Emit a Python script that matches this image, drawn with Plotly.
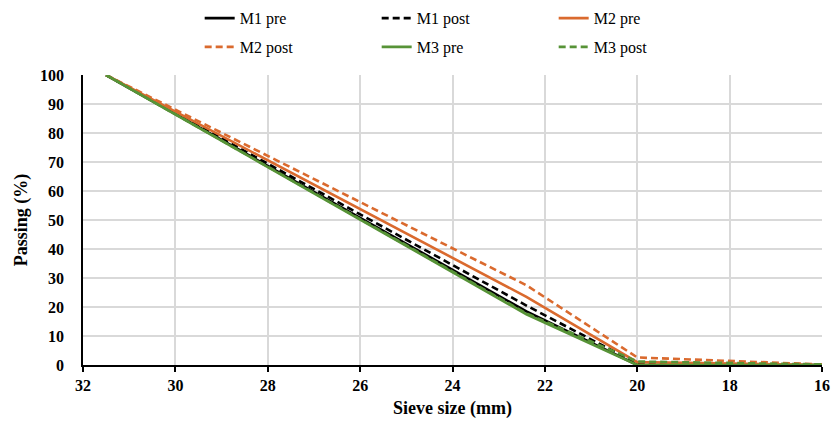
import plotly.graph_objects as go

# Sieve sizes (mm) and cumulative passing (%) for each mix, before and after
sieve_mm = [31.5, 22.4, 20, 16]
m1_pre = [100, 18.5, 0, 0]
m1_post = [100, 20.5, 0.5, 0]
m2_pre = [100, 23.5, 1.0, 0]
m2_post = [100, 27.5, 2.6, 0.2]
m3_pre = [100, 17.5, 0, 0]
m3_post = [100, 17.8, 1.2, 0.2]

x_ticks = [32, 30, 28, 26, 24, 22, 20, 18, 16]
y_ticks = list(range(0, 101, 10))

BLACK = "#000000"
ORANGE = "#DA6A2E"
GREEN = "#579337"
DASH = "7px,4px"

series = [
    ("M1 pre", m1_pre, BLACK, "solid", "legend"),
    ("M1 post", m1_post, BLACK, DASH, "legend"),
    ("M2 pre", m2_pre, ORANGE, "solid", "legend"),
    ("M2 post", m2_post, ORANGE, DASH, "legend2"),
    ("M3 pre", m3_pre, GREEN, "solid", "legend2"),
    ("M3 post", m3_post, GREEN, DASH, "legend2"),
]

fig = go.Figure()
for name, vals, color, dash, leg in series:
    fig.add_trace(go.Scatter(
        x=sieve_mm, y=vals, name=name, mode="lines",
        line=dict(color=color, width=2.6, dash=dash),
        legend=leg,
    ))

font_serif = "Liberation Serif"
legend_common = dict(
    orientation="h", xanchor="left", yanchor="middle",
    xref="container", yref="container",
    entrywidth=132, entrywidthmode="pixels",
    font=dict(family=font_serif, size=16, color="#000"),
    bgcolor="rgba(0,0,0,0)", itemwidth=30, tracegroupgap=0,
)

fig.update_layout(
    width=832, height=423,
    margin=dict(l=83, r=10, t=75, b=58, autoexpand=False),
    paper_bgcolor="white", plot_bgcolor="white",
    font=dict(family=font_serif, size=14, color="#000"),
    showlegend=True,
    legend=dict(x=0.240, y=0.957, **legend_common),
    legend2=dict(x=0.240, y=0.889, **legend_common),
    xaxis=dict(
        range=[32, 16], tickvals=x_ticks, ticktext=[str(v) for v in x_ticks],
        showgrid=True, gridcolor="#D9D9D9", gridwidth=1.5,
        showline=True, linecolor="#000", linewidth=1.5,
        ticks="outside", ticklen=5, tickcolor="#000", tickwidth=1.5,
        tickfont=dict(family=font_serif, size=16, color="#000", weight="bold"),
        title=dict(text="<b>Sieve size (mm)</b>", font=dict(family=font_serif, size=18, color="#000"), standoff=8),
        zeroline=False,
    ),
    yaxis=dict(
        range=[0, 100], tickvals=y_ticks,
        showgrid=True, gridcolor="#D9D9D9", gridwidth=1.5,
        showline=True, linecolor="#000", linewidth=1.5,
        ticks="", ticklabelstandoff=14,
        tickfont=dict(family=font_serif, size=16, color="#000", weight="bold"),
        title=dict(text="<b>Passing (%)</b>", font=dict(family=font_serif, size=18, color="#000"), standoff=8),
        zeroline=False,
    ),
)

fig.write_html("out.html")
